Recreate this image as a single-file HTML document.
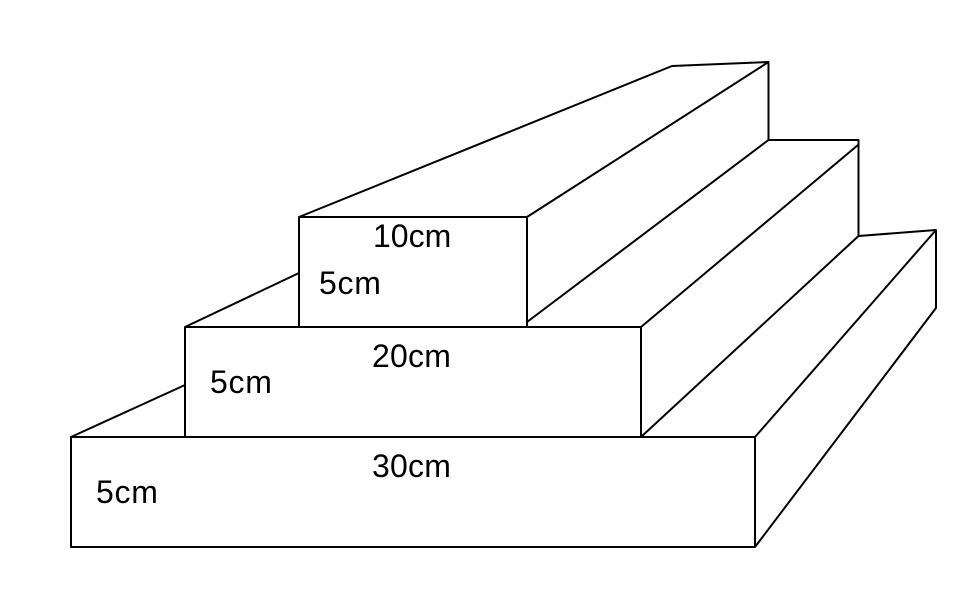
<!DOCTYPE html>
<html>
<head>
<meta charset="utf-8">
<style>
html,body{margin:0;padding:0;background:#fff;}
svg{display:block;}
text{font-family:"Liberation Sans",Arial,sans-serif;font-size:32px;fill:#000;}
.s{letter-spacing:0.7px;}
.w{letter-spacing:0.2px;}
</style>
</head>
<body>
<svg width="976" height="592" viewBox="0 0 976 592" xmlns="http://www.w3.org/2000/svg">
<g fill="none" stroke="#000" stroke-width="2" stroke-linejoin="round">
<rect x="71" y="437" width="684" height="110"/>
<rect x="185" y="327" width="456" height="110"/>
<rect x="299" y="217" width="228" height="110"/>
<path d="M71 437L185 385"/>
<path d="M185 327L299 273"/>
<path d="M299 217L672 66L768.500 62L527 217"/>
<path d="M768.500 62V140H858.500V236L936 230V308L755 547"/>
<path d="M527 322L768.500 140"/>
<path d="M641 327L858 145"/>
<path d="M641 437L858.500 236"/>
<path d="M755 437L936 230"/>
</g>
<text x="373" y="247">10cm</text>
<text class="s" x="319" y="294">5cm</text>
<text class="w" x="372" y="367">20cm</text>
<text class="s" x="210" y="393">5cm</text>
<text class="w" x="372" y="477">30cm</text>
<text class="s" x="96" y="503">5cm</text>
</svg>
</body>
</html>
